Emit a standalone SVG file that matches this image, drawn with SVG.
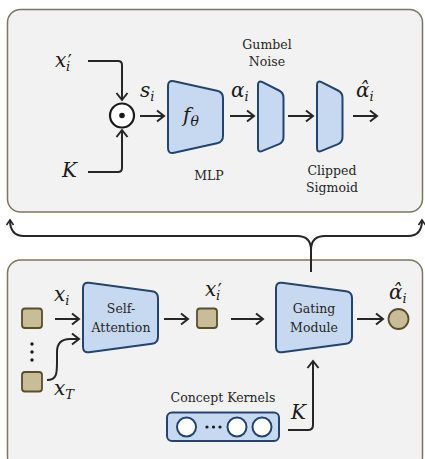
<svg xmlns="http://www.w3.org/2000/svg" width="425" height="459" viewBox="0 0 425 459">
<defs>
<marker id="ah" markerUnits="userSpaceOnUse" markerWidth="14" markerHeight="14" refX="10" refY="7" orient="auto">
<path d="M3,1.5 L10,7 L3,12.5" fill="none" stroke="#262626" stroke-width="2" stroke-linejoin="miter"/>
</marker>
<marker id="ahs" markerUnits="userSpaceOnUse" markerWidth="10" markerHeight="10" refX="7" refY="5" orient="auto">
<path d="M2,1.5 L7,5 L2,8.5" fill="none" stroke="#262626" stroke-width="1.6"/>
</marker>
</defs>
<style>
.panel{fill:#f2f2f2;stroke:#7a7660;stroke-width:1.5}
.blk{fill:#c6d9f0;stroke:#24446e;stroke-width:2}
.sq{fill:#c9bd97;stroke:#574e2e;stroke-width:1.8}
.wc{fill:#ffffff;stroke:#24446e;stroke-width:2}
.ln{fill:none;stroke:#262626;stroke-width:2}
.t{font-family:"DejaVu Serif","Liberation Serif",serif;font-size:12.5px;fill:#262626;text-anchor:middle}
.m{font-family:"DejaVu Serif","Liberation Serif",serif;font-style:italic;font-size:20px;fill:#1a1a1a}
.sb{font-size:13px}
.pr{font-size:18px;font-style:normal}
</style>

<g id="top-panel">
<rect class="panel" x="7.5" y="9.5" width="415" height="202.5" rx="13"/>
</g>
<g id="bottom-panel">
<rect class="panel" x="7.5" y="260" width="415" height="210" rx="13"/>
</g>

<g id="connectors">
<path class="ln" d="M88,61 L118,61 Q122,61 122,65 L122,100" marker-end="url(#ah)"/>
<path class="ln" d="M88,172 L118,172 Q122,172 122,168 L122,130" marker-end="url(#ah)"/>
<path class="ln" d="M140,116 L164,116" marker-end="url(#ah)"/>
<path class="ln" d="M230,116 L254,116" marker-end="url(#ah)"/>
<path class="ln" d="M288,116 L313,116" marker-end="url(#ah)"/>
<path class="ln" d="M353,116 L377,116" marker-end="url(#ah)"/>
<path class="ln" d="M311,272 L311,250 Q311,236 297,236 L24,236 Q10,236 10,220" marker-end="url(#ahs)"/>
<path class="ln" d="M311,250 Q311,236 325,236 L408,236 Q422,236 422,220" marker-end="url(#ahs)"/>
<path class="ln" d="M55,319 L79,319" marker-end="url(#ah)"/>
<path class="ln" d="M47,380 C57,380 57,373 57,362 L57,352 C57,343 61,339 70,339 L79,339" marker-end="url(#ah)"/>
<path class="ln" d="M164,319 L188,319" marker-end="url(#ah)"/>
<path class="ln" d="M231,319 L263,319" marker-end="url(#ah)"/>
<path class="ln" d="M357,319 L383,319" marker-end="url(#ah)"/>
<path class="ln" d="M288,430 L308,430 Q313,430 313,425 L313,361" marker-end="url(#ah)"/>
</g>

<g id="odot">
<circle cx="122" cy="115.5" r="12" fill="#ffffff" stroke="#1a1a1a" stroke-width="2.2"/>
<circle cx="122" cy="115.5" r="2.8" fill="#1a1a1a"/>
</g>

<g id="labels-top">
<text class="m" x="55" y="67">x<tspan class="pr" dx="1.5" dy="1">′</tspan><tspan class="sb" dx="-6" dy="3">i</tspan></text>
<text class="m" x="62" y="177">K</text>
<text class="m" x="140" y="97">s<tspan class="sb" dy="4">i</tspan></text>
<text class="m" x="231" y="97">α<tspan class="sb" dy="4">i</tspan></text>
<text class="m" x="356" y="97">α̂<tspan class="sb" dy="4">i</tspan></text>
</g>

<g id="mlp">
<path class="blk" d="M168,86 Q168,80 174,81.3 L217,90.7 Q223,92 223,98 L223,136 Q223,142 217,143.3 L174,152.7 Q168,154 168,148 Z"/>
<text class="m" x="183" y="122" font-size="22">f<tspan font-size="14" dy="4">θ</tspan></text>
<text class="t" x="209" y="180">MLP</text>
</g>

<g id="gumbel">
<path class="blk" d="M258,85 Q258,80 262.5,82.2 L279,90.5 Q283.5,92.7 283.5,97.7 L283.5,137 Q283.5,142 279,144.2 L262.5,150.8 Q258,153 258,148 Z"/>
<text class="t" x="267" y="49">Gumbel</text>
<text class="t" x="267" y="66">Noise</text>
</g>

<g id="sigmoid">
<path class="blk" d="M317,85 Q317,80 321.5,82.2 L338,90.5 Q342.5,92.7 342.5,97.7 L342.5,137 Q342.5,142 338,144.2 L321.5,150.8 Q317,153 317,148 Z"/>
<text class="t" x="332" y="175">Clipped</text>
<text class="t" x="332" y="192">Sigmoid</text>
</g>

<g id="inputs">
<rect class="sq" x="22" y="308.5" width="20" height="19.5" rx="3"/>
<rect class="sq" x="22" y="372" width="20" height="19.5" rx="3"/>
<circle cx="32" cy="344" r="1.7" fill="#1a1a1a"/>
<circle cx="32" cy="352" r="1.7" fill="#1a1a1a"/>
<circle cx="32" cy="360" r="1.7" fill="#1a1a1a"/>
<text class="m" x="54" y="301">x<tspan class="sb" dy="4">i</tspan></text>
<text class="m" x="54" y="395">x<tspan class="sb" dy="4">T</tspan></text>
</g>

<g id="self-attention">
<path class="blk" d="M83,288 Q83,282 89,282.8 L152,291.2 Q158,292 158,298 L158,337 Q158,343 152,343.8 L89,352.2 Q83,353 83,347 Z"/>
<text class="t" x="121" y="313">Self-</text>
<text class="t" x="121" y="332">Attention</text>
</g>

<g id="xprime">
<rect class="sq" x="197" y="308.5" width="20" height="19.5" rx="3"/>
<text class="m" x="205" y="296">x<tspan class="pr" dx="1.5" dy="1">′</tspan><tspan class="sb" dx="-6" dy="3">i</tspan></text>
</g>

<g id="gating-module">
<path class="blk" d="M276,288 Q276,282 282,282.8 L346,291.2 Q352,292 352,298 L352,337 Q352,343 346,343.8 L282,352.2 Q276,353 276,347 Z"/>
<text class="t" x="314" y="313">Gating</text>
<text class="t" x="314" y="332">Module</text>
</g>

<g id="output">
<circle class="sq" cx="398.5" cy="319" r="10"/>
<text class="m" x="389" y="299">α̂<tspan class="sb" dy="4">i</tspan></text>
</g>

<g id="concept-kernels">
<text class="t" x="223" y="402">Concept Kernels</text>
<rect class="blk" x="167" y="412.5" width="112" height="28.5" rx="5"/>
<circle class="wc" cx="186.5" cy="427" r="9.5"/>
<circle cx="207" cy="427" r="1.6" fill="#1a1a1a"/>
<circle cx="213.5" cy="427" r="1.6" fill="#1a1a1a"/>
<circle cx="220" cy="427" r="1.6" fill="#1a1a1a"/>
<circle class="wc" cx="237" cy="427" r="9.5"/>
<circle class="wc" cx="262" cy="427" r="9.5"/>
<text class="m" x="291" y="419">K</text>
</g>
</svg>
